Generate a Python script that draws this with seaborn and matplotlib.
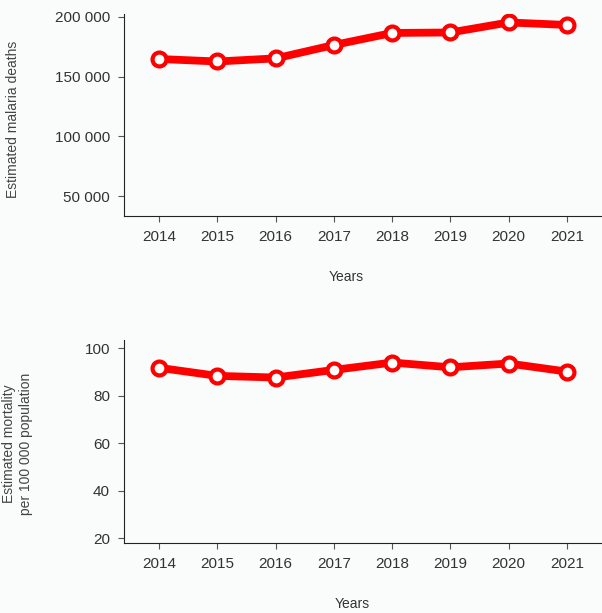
import seaborn as sns
import matplotlib.pyplot as plt
import pandas as pd
from matplotlib.ticker import FuncFormatter

# values
years = [2014, 2015, 2016, 2017, 2018, 2019, 2020, 2021]
deaths = [164800, 162700, 165300, 176500, 186600, 187000, 195400, 193300]
mortality = [91.8, 88.4, 87.7, 90.9, 94.0, 92.0, 93.6, 90.2]

df = pd.DataFrame({'Year': years, 'Deaths': deaths, 'Mortality': mortality})

sns.set_style("white")
plt.rcParams['font.family'] = ['Liberation Sans', 'DejaVu Sans']

fig = plt.figure(figsize=(6.02, 6.13), dpi=100)
ax1 = fig.add_axes([0.206, 0.6476, 0.794, 0.3296])
ax2 = fig.add_axes([0.206, 0.1142, 0.794, 0.3312])

line_kw = dict(color='#ff0000', linewidth=5.6, marker='o', markersize=10,
               markerfacecolor='white', markeredgecolor='#ff0000',
               markeredgewidth=3)

sns.lineplot(data=df, x='Year', y='Deaths', ax=ax1, **line_kw)
sns.lineplot(data=df, x='Year', y='Mortality', ax=ax2, **line_kw)

def space_thousands(v, pos):
    return f"{int(v):,}".replace(',', ' ')

ax1.set_ylim(33250, 202500)
ax1.set_yticks([50000, 100000, 150000, 200000])
ax1.yaxis.set_major_formatter(FuncFormatter(space_thousands))
ax2.set_ylim(18.1, 103.5)
ax2.set_yticks([20, 40, 60, 80, 100])

for ax in (ax1, ax2):
    ax.set_facecolor('none')
    ax.set_xlim(2013.4, 2021.6)
    ax.set_xticks(years)
    sns.despine(ax=ax)
    ax.spines['left'].set_color('#222222')
    ax.spines['bottom'].set_color('#222222')
    ax.tick_params(axis='both', direction='out', length=4, width=0.8,
                   colors='#555555', labelcolor='#333333', labelsize=11,
                   left=True, bottom=True, pad=6)
    ax.set_xlabel('Years', fontsize=10, color='#333333')

ax1.set_ylabel('Estimated malaria deaths', fontsize=10, color='#444444')
ax2.set_ylabel('Estimated mortality\nper 100 000 population', fontsize=10,
               color='#444444', linespacing=1.25)

ax1.yaxis.set_label_coords(-0.2176, 0.48)
ax2.yaxis.set_label_coords(-0.19, 0.49)
ax1.xaxis.set_label_coords(0.464, -0.267)
ax2.xaxis.set_label_coords(0.477, -0.266)

fig.patch.set_facecolor('#fafbfb')
plt.savefig('out.png', dpi=100, facecolor=fig.get_facecolor())
